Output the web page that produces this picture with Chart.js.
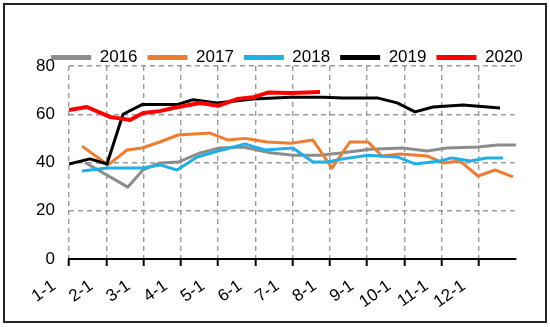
<!DOCTYPE html>
<html>
<head>
<meta charset="utf-8">
<script src="https://cdn.jsdelivr.net/npm/chart.js@4/dist/chart.umd.min.js"></script>
<style>
  html, body { margin: 0; padding: 0; background: #fff; }
  #wrap { position: relative; width: 550px; height: 327px; }
  #frame { position: absolute; left: 3px; top: 3px; width: 540px; height: 316px; border: 2px solid #222; pointer-events: none; }
  canvas { position: absolute; left: 0; top: 0; }
</style>
</head>
<body>
<div id="wrap">
  <canvas id="c" width="550" height="327"></canvas>
  <div id="frame"></div>
</div>
<script>
// x positions are months elapsed since Jan 1 (0 = 1-1, 1 = 2-1, ...)
const monthLabels = ["1-1","2-1","3-1","4-1","5-1","6-1","7-1","8-1","9-1","10-1","11-1","12-1"];
const seriesNames = ["2016","2017","2018","2019","2020"];

const pos2016 = [0.43, 1.58, 1.99, 2.44, 2.93, 3.52, 4.05, 4.67, 5.40, 6.01, 6.74, 7.36, 8.08, 8.97, 9.61, 10.15, 10.98, 11.50, 12.0];
const val2016 = [40.0, 29.8, 37.0, 39.8, 40.2, 44.0, 46.0, 46.4, 44.0, 43.0, 43.0, 44.0, 45.5, 46.0, 44.8, 46.0, 46.4, 47.3, 47.3];

const pos2017 = [0.35, 1.05, 1.56, 1.96, 2.44, 2.93, 3.79, 4.27, 4.72, 5.32, 5.96, 6.55, 7.06, 7.54, 8.03, 8.40, 8.89, 9.61, 10.04, 10.50, 10.98, 11.44, 11.92];
const val2017 = [46.8, 39.0, 45.2, 46.0, 48.5, 51.4, 52.2, 49.3, 50.0, 48.5, 48.0, 49.3, 37.7, 48.5, 48.5, 42.7, 43.5, 42.7, 39.8, 40.6, 34.4, 36.9, 34.0];

const pos2018 = [0.35, 1.02, 1.99, 2.44, 2.90, 3.44, 4.05, 4.32, 4.72, 5.26, 6.01, 6.55, 6.93, 7.36, 8.03, 8.35, 8.81, 9.29, 9.96, 10.28, 10.77, 11.22, 11.65];
const val2018 = [36.5, 37.7, 37.7, 39.0, 36.9, 42.3, 45.0, 46.0, 47.7, 45.2, 46.0, 40.2, 40.2, 41.5, 43.0, 42.7, 42.3, 39.4, 40.6, 41.9, 40.6, 41.9, 41.9];

const pos2019 = [0.0, 0.56, 1.02, 1.45, 1.96, 2.90, 3.33, 3.97, 4.94, 5.93, 6.82, 7.36, 8.30, 8.81, 9.29, 9.77, 10.58, 11.57];
const val2019 = [39.4, 41.5, 39.4, 60.0, 64.0, 64.0, 66.0, 64.7, 66.3, 67.0, 67.0, 66.7, 66.7, 64.7, 61.0, 63.0, 63.8, 62.6];

const pos2020 = [0.0, 0.48, 1.10, 1.32, 1.64, 1.99, 2.44, 2.79, 3.52, 4.00, 4.51, 4.94, 5.34, 5.93, 6.39, 6.74];
const val2020 = [61.8, 63.0, 58.9, 58.4, 57.6, 60.5, 61.3, 62.6, 64.7, 63.5, 66.3, 67.0, 69.0, 68.8, 69.0, 69.2];

const yTicks = [0, 20, 40, 60, 80];

const colors = ["#8c8c8c", "#ed7d31", "#1fb0e6", "#000000", "#ff0000"];
const widths = [3, 3, 3, 3, 4];
const drawOrder = [4, 3, 2, 1, 0];
const allPos = [pos2016, pos2017, pos2018, pos2019, pos2020];
const allVal = [val2016, val2017, val2018, val2019, val2020];

const toPts = (p, v) => p.map((x, i) => ({ x: x, y: v[i] }));

const datasets = seriesNames.map((name, i) => ({
  label: name,
  data: toPts(allPos[i], allVal[i]),
  borderColor: colors[i],
  backgroundColor: colors[i],
  borderWidth: widths[i],
  pointRadius: 0,
  tension: 0,
  borderJoinStyle: 'round',
  order: drawOrder[i]
}));

const FONT = { family: "'Liberation Sans', Arial, sans-serif", size: 17 };

const legendShift = {
  id: 'legendShift',
  afterLayout(chart) {
    const lg = chart.legend;
    if (!lg) return;
    lg.top += 10; lg.bottom += 10;
    lg.left += 18; lg.right += 18;
  }
};

new Chart(document.getElementById('c'), {
  type: 'line',
  data: { datasets },
  options: {
    responsive: false,
    animation: false,
    events: [],
    layout: { padding: { top: 29, left: 22, right: 34, bottom: 0 } },
    plugins: {
      tooltip: { enabled: false },
      legend: {
        position: 'top',
        align: 'center',
        labels: {
          font: FONT,
          color: '#000',
          boxWidth: 40,
          boxHeight: 5,
          padding: 10,
          sort: (a, b) => a.datasetIndex - b.datasetIndex,
          generateLabels: (chart) => {
            const items = Chart.defaults.plugins.legend.labels.generateLabels(chart);
            items.forEach(it => { it.lineWidth = 0; it.fillStyle = colors[it.datasetIndex]; });
            return items;
          }
        }
      }
    },
    scales: {
      x: {
        type: 'linear',
        min: 0,
        max: 12,
        afterBuildTicks: (axis) => {
          axis.ticks = monthLabels.map((_, i) => ({ value: i }));
        },
        afterFit: (s) => { s.height = 68; },
        ticks: {
          autoSkip: false,
          maxRotation: 35,
          minRotation: 35,
          labelOffset: -15,
          padding: 10,
          color: '#000',
          font: FONT,
          callback: (v) => monthLabels[v] !== undefined ? monthLabels[v] : ''
        },
        grid: {
          color: '#9a9a9a',
          lineWidth: 1.4,
          drawTicks: true,
          tickLength: 7,
          tickColor: '#000',
          tickWidth: 2
        },
        border: { display: true, color: '#000', width: 2, dash: [5, 4] }
      },
      y: {
        min: 0,
        max: 80,
        afterBuildTicks: (axis) => {
          axis.ticks = yTicks.map(v => ({ value: v }));
        },
        afterFit: (s) => { s.width = 47; },
        ticks: {
          padding: 14,
          color: '#000',
          font: FONT
        },
        grid: {
          color: '#9a9a9a',
          lineWidth: 1.4,
          drawTicks: false
        },
        border: { display: false, dash: [5, 4] }
      }
    }
  },
  plugins: [legendShift]
});
</script>
</body>
</html>
